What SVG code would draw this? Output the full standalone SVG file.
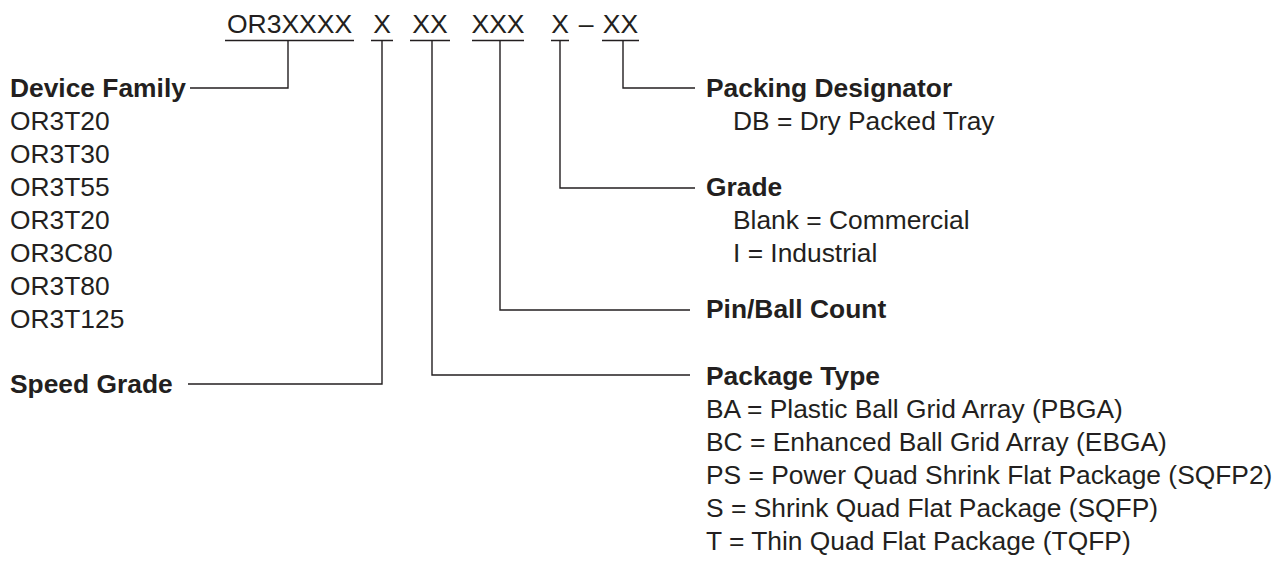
<svg xmlns="http://www.w3.org/2000/svg" width="1283" height="562" viewBox="0 0 1283 562">
<style>
text{font-family:"Liberation Sans",Arial,Helvetica,sans-serif;font-size:25px;fill:#231f20}
.b{font-weight:bold}
.top{font-size:25.5px;text-anchor:middle}
.ln{stroke:#231f20;stroke-width:1.4;fill:none}
</style>
<rect width="1283" height="562" fill="#fff"/>
<g id="code">
<text class="top" transform="translate(289.5,33) scale(1.04,1)">OR3XXXX</text>
<text class="top" transform="translate(382,33) scale(1.04,1)">X</text>
<text class="top" transform="translate(430,33) scale(1.04,1)">XX</text>
<text class="top" transform="translate(498,33) scale(1.04,1)">XXX</text>
<text class="top" transform="translate(560,33) scale(1.04,1)">X</text>
<text class="top" transform="translate(586,33) scale(1.04,1)">–</text>
<text class="top" transform="translate(620.5,33) scale(1.04,1)">XX</text>
<path class="ln" d="M225 40.5H354M371 40.5H393M410 40.5H450M472 40.5H524M551 40.5H569M602 40.5H639"/>
</g>
<g id="connectors">
<path class="ln" d="M288 40.5V88H190"/>
<path class="ln" d="M382 40.5V384H188"/>
<path class="ln" d="M432 40.5V375H690"/>
<path class="ln" d="M500 40.5V310H690"/>
<path class="ln" d="M560 40.5V188H695"/>
<path class="ln" d="M623 40.5V88H695"/>
</g>
<g id="device-family">
<text class="b" transform="translate(10,97) scale(1.055,1)">Device Family</text>
<text transform="translate(10,129.5) scale(1.055,1)">OR3T20</text>
<text transform="translate(10,162.5) scale(1.055,1)">OR3T30</text>
<text transform="translate(10,195.5) scale(1.055,1)">OR3T55</text>
<text transform="translate(10,228.5) scale(1.055,1)">OR3T20</text>
<text transform="translate(10,261.5) scale(1.055,1)">OR3C80</text>
<text transform="translate(10,294.5) scale(1.055,1)">OR3T80</text>
<text transform="translate(10,327.5) scale(1.055,1)">OR3T125</text>
</g>
<g id="speed-grade">
<text class="b" transform="translate(10,392.5) scale(1.055,1)">Speed Grade</text>
</g>
<g id="packing-designator">
<text class="b" transform="translate(706,96.5) scale(1.055,1)">Packing Designator</text>
<text transform="translate(733,129.5) scale(1.055,1)">DB = Dry Packed Tray</text>
</g>
<g id="grade">
<text class="b" transform="translate(706,196) scale(1.055,1)">Grade</text>
<text transform="translate(733,228.5) scale(1.055,1)">Blank = Commercial</text>
<text transform="translate(733,261.5) scale(1.055,1)">I = Industrial</text>
</g>
<g id="pin-ball-count">
<text class="b" transform="translate(706,318) scale(1.055,1)">Pin/Ball Count</text>
</g>
<g id="package-type">
<text class="b" transform="translate(706,385) scale(1.055,1)">Package Type</text>
<text transform="translate(706,417.5) scale(1.055,1)">BA = Plastic Ball Grid Array (PBGA)</text>
<text transform="translate(706,450.5) scale(1.055,1)">BC = Enhanced Ball Grid Array (EBGA)</text>
<text transform="translate(706,483.5) scale(1.055,1)">PS = Power Quad Shrink Flat Package (SQFP2)</text>
<text transform="translate(706,516.5) scale(1.055,1)">S = Shrink Quad Flat Package (SQFP)</text>
<text transform="translate(706,549.5) scale(1.055,1)">T = Thin Quad Flat Package (TQFP)</text>
</g>
</svg>
